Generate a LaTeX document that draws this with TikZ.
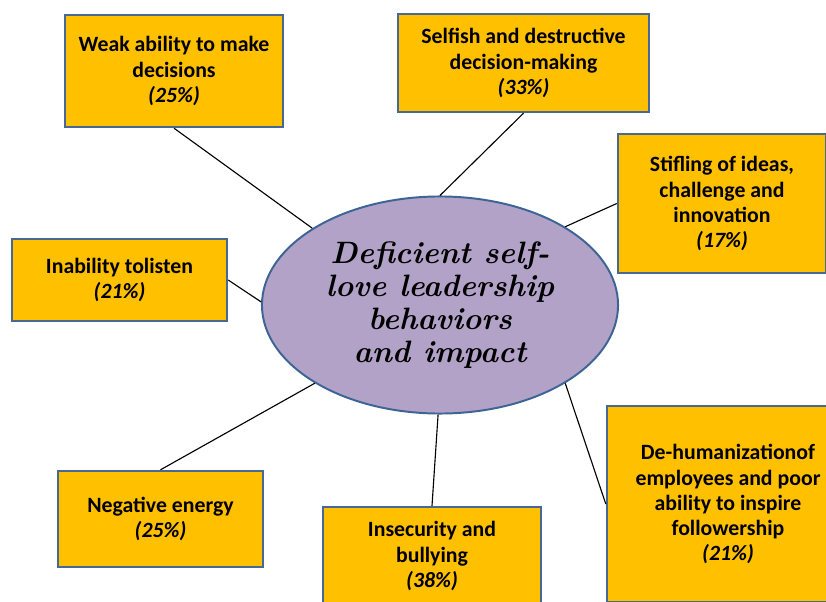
\documentclass[tikz,border=0pt]{standalone}
\usepackage{fontspec}
\usepackage{tikz}
\newfontfamily\boxfont{Carlito}
\usetikzlibrary{shapes,positioning,shadows}

\definecolor{boxfill}{RGB}{255,192,0}
\definecolor{boxline}{RGB}{72,104,148}
\definecolor{corefill}{RGB}{178,162,199}
\definecolor{coreline}{RGB}{62,100,150}

\tikzset{
  impact/.style={draw=boxline, line width=1.7pt, fill=boxfill, align=center,
    inner sep=2pt, font=\boxfont\fontsize{15.5}{17.8}\selectfont\bfseries,
    drop shadow={shadow xshift=0.8pt, shadow yshift=-0.8pt, opacity=0.35}},
  core/.style={ellipse, draw=coreline, line width=1.4pt, fill=corefill,
    inner sep=0pt, align=center, minimum width=8.9cm, minimum height=5.425cm,
    font=\fontsize{22}{23.5}\selectfont\bfseries\itshape},
  link/.style={line width=0.8pt}
}

\begin{document}
\begin{tikzpicture}[x=0.025cm, y=-0.025cm]
        \useasboundingbox (0,0) rectangle (826,602);
        \clip (0,0) rectangle (826,602);

        % centre
        \node[core] (core) at (440,305) {Deficient self-\\love leadership\\behaviors\\and impact};

        % outcomes
        \node[impact, minimum width=5.45cm, minimum height=2.8cm] (weak) at (174,71)
            {Weak ability to make\\decisions\\\textit{(25\%)}};
        \node[impact, minimum width=6.275cm, minimum height=2.45cm] (selfish) at (523.5,63)
            {Selfish and destructive\\decision-making\\\textit{(33\%)}};
        \node[impact, minimum width=5.2cm, minimum height=3.475cm] (stifling) at (722,203.5)
            {Stifling of ideas,\\challenge and\\innovation\\\textit{(17\%)}};
        \node[impact, minimum width=5.375cm, minimum height=2.05cm] (listen) at (119.5,280)
            {Inability tolisten\\\textit{(21\%)}};
        \node[impact, minimum width=5.125cm, minimum height=2.4cm] (negative) at (160.5,519)
            {Negative energy\\\textit{(25\%)}};
        \node[impact, minimum width=5.45cm, minimum height=2.45cm] (bullying) at (432,556)
            {Insecurity and\\bullying\\\textit{(38\%)}};
        \node[impact, minimum width=6.05cm, minimum height=4.9cm] (dehuman) at (728,504)
            {De-humanizationof\\employees and poor\\ability to inspire\\followership\\\textit{(21\%)}};

        % links
        \draw[link] (weak.south) -- (core.149);
        \draw[link] (selfish.south) -- (core.90);
        \draw[link] (stifling.west) -- (core.32);
        \draw[link] (listen.east) -- (core.179);
        \draw[link] (negative.north) -- (core.212);
        \draw[link] (bullying.north) -- (core.269);
        \draw[link] (dehuman.west) -- (core.328);
\end{tikzpicture}
\end{document}
